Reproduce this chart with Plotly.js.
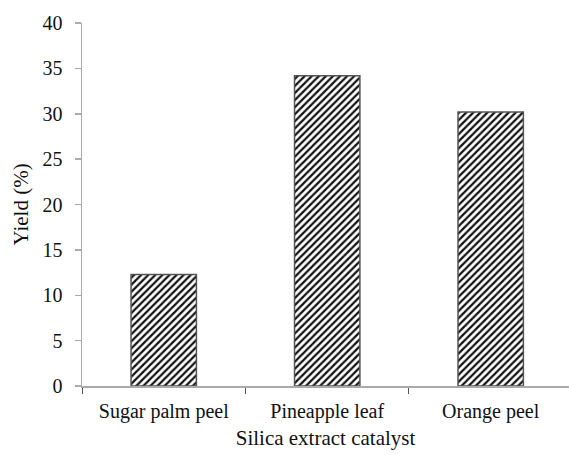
<!DOCTYPE html>
<html><head><meta charset="utf-8">
<script src="https://cdn.plot.ly/plotly-3.0.1.min.js"></script>
<style>html,body{margin:0;padding:0;background:#fff}</style>
</head><body>
<div id="chart" style="width:569px;height:455px"></div>
<script>
const categories = ["Sugar palm peel", "Pineapple leaf", "Orange peel"];
const yieldValues = [12.3, 34.2, 30.2];
const yTicks = [0, 5, 10, 15, 20, 25, 30, 35, 40];

const font = {family: "Liberation Serif, Times New Roman, serif", color: "#111", size: 20};

Plotly.newPlot("chart", [{
  type: "bar",
  x: categories,
  y: yieldValues,
  marker: {
    color: "#ffffff",
    line: {color: "#555", width: 1.5},
    pattern: {shape: "/", fgcolor: "#111", bgcolor: "#ffffff", size: 5, solidity: 0.45}
  },
  hoverinfo: "none"
}], {
  width: 569, height: 455,
  margin: {l: 82, r: 0, t: 23, b: 69},
  paper_bgcolor: "#fff", plot_bgcolor: "#fff",
  font: font,
  bargap: 0.6,
  showlegend: false,
  xaxis: {
    range: [-0.5, 2.479],
    showline: true, linecolor: "#aaa", linewidth: 1.5,
    ticks: "outside", tickson: "boundaries", ticklen: 6, tickcolor: "#555", tickwidth: 1,
    showgrid: false, zeroline: false,
    tickfont: {size: 20},
    ticklabelstandoff: 6,
    title: {text: "Silica extract catalyst", font: {size: 21}, standoff: 9}
  },
  yaxis: {
    range: [0, 40],
    tickvals: yTicks,
    showline: true, linecolor: "#aaa", linewidth: 1.5,
    ticks: "outside", ticklen: 6, tickcolor: "#aaa", tickwidth: 1.5,
    showgrid: false, zeroline: false,
    tickfont: {size: 20},
    ticklabelstandoff: 8,
    title: {text: "Yield (%)", font: {size: 21}, standoff: 8}
  }
}, {staticPlot: true});
</script>
</body></html>
